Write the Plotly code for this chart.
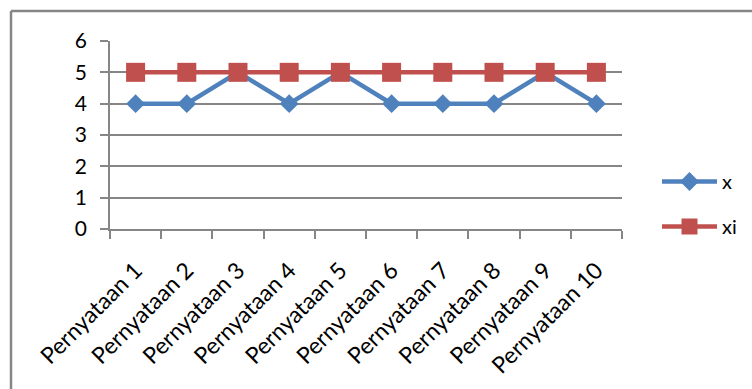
import plotly.graph_objects as go

# Statement labels and scores
categories = [f"Pernyataan {i}" for i in range(1, 11)]
x_values = [4, 4, 5, 4, 5, 4, 4, 4, 5, 4]
xi_values = [5, 5, 5, 5, 5, 5, 5, 5, 5, 5]
y_ticks = [0, 1, 2, 3, 4, 5, 6]

W, H = 752, 389
L, R, T, B = 110, 622, 41, 229  # plot area in pixels

GRAY = "#868686"
BLUE = "#4F81BD"
RED = "#C0504D"
FONT = "Lato"

fig = go.Figure()
fig.add_trace(go.Scatter(
    x=categories, y=x_values, name="x", mode="lines+markers",
    legendgroup="a",
    line=dict(color=BLUE, width=4.5),
    marker=dict(symbol="diamond", size=14.5, color=BLUE),
))
fig.add_trace(go.Scatter(
    x=categories, y=xi_values, name="xi", mode="lines+markers",
    legendgroup="b",
    line=dict(color=RED, width=4.5),
    marker=dict(symbol="square", size=19, color=RED),
))

def px_x(p):
    return (p - L) / (R - L)

def px_y(p):
    return (B - p) / (B - T)

# chart frame (top and left edges)
fig.add_shape(type="line", xref="paper", yref="paper",
              x0=px_x(11), x1=px_x(760), y0=px_y(11), y1=px_y(11),
              line=dict(color=GRAY, width=2.5))
fig.add_shape(type="line", xref="paper", yref="paper",
              x0=px_x(11), x1=px_x(11), y0=px_y(11), y1=px_y(400),
              line=dict(color=GRAY, width=2.5))

fig.update_layout(
    width=W, height=H,
    margin=dict(l=L, r=W - R, t=T, b=H - B, autoexpand=False),
    paper_bgcolor="white", plot_bgcolor="white",
    font=dict(family=FONT, size=20, color="black"),
    showlegend=True,
    legend=dict(
        x=px_x(657), y=px_y(162), xanchor="left", yanchor="top",
        font=dict(family=FONT, size=20, color="black"),
        tracegroupgap=16, bgcolor="rgba(0,0,0,0)",
        itemwidth=55,
    ),
    xaxis=dict(
        type="category", tickson="boundaries",
        range=[-0.5, 9.5],
        showline=True, linecolor=GRAY, linewidth=1.5,
        ticks="outside", ticklen=8, tickcolor=GRAY, tickwidth=1.5,
        tickangle=-45, showgrid=False,
        tickfont=dict(family=FONT, size=23),
        ticklabelstandoff=17,
    ),
    yaxis=dict(
        range=[0, 6], tickvals=y_ticks,
        showline=True, linecolor=GRAY, linewidth=1.5,
        ticks="outside", ticklen=8, tickcolor=GRAY, tickwidth=1.5,
        showgrid=True, gridcolor=GRAY, gridwidth=1.5,
        zeroline=False, ticklabelstandoff=9,
        tickfont=dict(family=FONT, size=21),
    ),
)

fig.write_html("out.html")
